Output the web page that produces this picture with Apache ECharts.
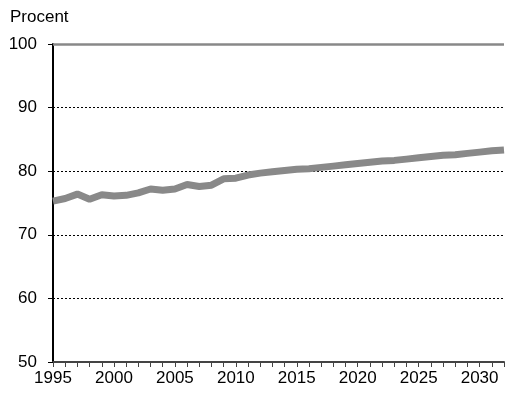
<!DOCTYPE html>
<html>
<head>
<meta charset="utf-8">
<script src="https://cdn.jsdelivr.net/npm/echarts@6/dist/echarts.min.js"></script>
<style>
html,body{margin:0;padding:0;background:#fff;}
#chart{width:507px;height:393px;}
</style>
</head>
<body>
<div id="chart"></div>
<script>
var years = [1995,1996,1997,1998,1999,2000,2001,2002,2003,2004,2005,2006,2007,2008,2009,2010,2011,2012,2013,2014,2015,2016,2017,2018,2019,2020,2021,2022,2023,2024,2025,2026,2027,2028,2029,2030,2031,2032];
var values = [75.3,75.7,76.4,75.6,76.3,76.1,76.2,76.6,77.2,77.0,77.2,77.9,77.6,77.8,78.8,78.9,79.4,79.7,79.9,80.1,80.3,80.4,80.6,80.8,81.0,81.2,81.4,81.6,81.7,81.9,82.1,82.3,82.5,82.6,82.8,83.0,83.2,83.35];
var yTicks = [50,60,70,80,90,100];
var yTitle = 'Procent';

var font = 'Liberation Sans, Arial, sans-serif';
var chart = echarts.init(document.getElementById('chart'), null, {renderer:'canvas'});
chart.setOption({
  animation: false,
  backgroundColor: '#fff',
  graphic: [{
    type: 'text', left: 10, top: 9,
    style: { text: yTitle, font: '17px ' + font, fill: '#000' }
  }],
  grid: { left: 53, top: 44, width: 455, height: 318 },
  xAxis: {
    type: 'value', min: 1995, max: 2032, interval: 1,
    axisLine: { show: true, onZero: false, lineStyle: { color: '#444', width: 2 } },
    axisTick: { show: true, length: 5, lineStyle: { color: '#444', width: 1 } },
    splitLine: { show: false },
    axisLabel: {
      fontFamily: font, fontSize: 17, color: '#000', margin: 8,
      showMinLabel: true, showMaxLabel: true,
      formatter: function (v) { return (v % 5 === 0) ? String(v) : ''; }
    }
  },
  yAxis: {
    type: 'value', min: yTicks[0], max: yTicks[yTicks.length-1], interval: 10,
    axisLine: { show: true, lineStyle: { color: '#000', width: 2 } },
    axisTick: { show: true, length: 5, lineStyle: { color: '#000', width: 1 } },
    splitLine: { show: true, lineStyle: { color: '#000', width: 1, type: [2,2] } },
    axisLabel: { fontFamily: font, fontSize: 17, color: '#000', margin: 16 }
  },
  series: [{
    type: 'line',
    data: years.map(function (y, i) { return [y, values[i]]; }),
    symbol: 'none',
    lineStyle: { color: '#898989', width: 7 },
    clip: true,
    markLine: {
      silent: true, symbol: 'none', label: { show: false },
      lineStyle: { color: '#888', width: 2.5, type: 'solid' },
      data: [{ yAxis: 100 }]
    }
  }]
});
</script>
</body>
</html>
